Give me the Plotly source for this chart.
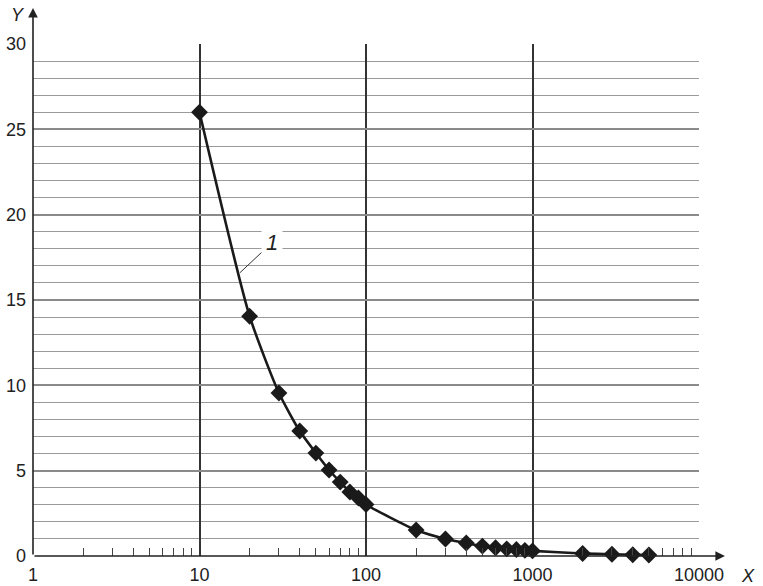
import plotly.graph_objects as go

# Data
x_vals = [10, 20, 30, 40, 50, 60, 70, 80, 90, 100, 200, 300, 400, 500, 600, 700, 800, 900, 1000, 2000, 3000, 4000, 5000]
y_vals = [26.0, 14.05, 9.55, 7.32, 6.03, 5.04, 4.33, 3.75, 3.40, 3.02, 1.52, 1.0, 0.76, 0.58, 0.48, 0.42, 0.38, 0.33, 0.30, 0.15, 0.10, 0.075, 0.06]

x_tick_vals = [1, 10, 100, 1000, 10000]
x_tick_text = ["1", "10", "100", "1000", "10000"]
x_minor_vals = [m * d for d in [1, 10, 100, 1000] for m in range(2, 10)]
y_tick_vals = [0, 5, 10, 15, 20, 25, 30]
y_tick_text = ["0", "5", "10", "15", "20", "25", "30"]

FONT = "Liberation Sans, Arial, sans-serif"

fig = go.Figure()
fig.add_trace(go.Scatter(
    x=x_vals, y=y_vals, mode="lines+markers",
    line=dict(color="#1a1a1a", width=2.6, shape="spline", smoothing=0.6),
    marker=dict(symbol="diamond", size=13, color="#1a1a1a"),
    showlegend=False, cliponaxis=False,
))

fig.update_layout(
    width=763, height=586,
    margin=dict(l=33, r=64, t=44, b=30, autoexpand=False),
    paper_bgcolor="white", plot_bgcolor="white",
    font=dict(family=FONT, size=18, color="#222"),
    xaxis=dict(
        type="log", range=[0, 4], automargin=False,
        tickmode="array", tickvals=x_tick_vals, ticktext=x_tick_text,
        showgrid=True, gridcolor="#333", gridwidth=1.5,
        ticks="", showline=False, zeroline=False,
        minor=dict(tickmode="array", tickvals=x_minor_vals, ticks="inside",
                   ticklen=8, tickwidth=1.2, tickcolor="#444", showgrid=False),
        ticklabelstandoff=6,
    ),
    yaxis=dict(
        range=[0, 30], automargin=False,
        tickmode="array", tickvals=y_tick_vals, ticktext=y_tick_text,
        showgrid=True, gridcolor="#8a8a8a", gridwidth=1.5,
        ticks="", showline=False, zeroline=False,
        minor=dict(dtick=1, showgrid=True, gridcolor="#9a9a9a", gridwidth=1.3),
        ticklabelstandoff=6,
    ),
)

# Axis arrows
fig.add_annotation(xref="paper", yref="paper", x=0, y=1.0703, ax=0, ay=548,
                   axref="pixel", ayref="pixel", text="", showarrow=True,
                   arrowhead=2, arrowsize=1.2, arrowwidth=1.6, arrowcolor="#222")
fig.add_annotation(xref="paper", yref="paper", x=1.039, y=0, ax=-692, ay=0,
                   axref="pixel", ayref="pixel", text="", showarrow=True,
                   arrowhead=2, arrowsize=1.2, arrowwidth=1.6, arrowcolor="#222")

# Axis names
fig.add_annotation(xref="paper", yref="paper", x=-0.0225, y=1.0566, text="<i>Y</i>",
                   xanchor="center", yanchor="middle",
                   showarrow=False, font=dict(size=18, family=FONT, color="#222"))
fig.add_annotation(xref="paper", yref="paper", x=1.0736, y=-0.039, text="<i>X</i>",
                   xanchor="center", yanchor="middle",
                   showarrow=False, font=dict(size=18, family=FONT, color="#222"))

# Curve label "1"
fig.add_annotation(x=1.243, y=16.6, xref="x", yref="y", text="<i>1</i>",
                   showarrow=True, ax=32, ay=-30, arrowhead=0, arrowwidth=1,
                   arrowcolor="#333", bgcolor="white", borderpad=4,
                   font=dict(size=22, family=FONT, color="#222"))

fig.write_html("out.html", config={"displayModeBar": False},
               post_script="document.body.style.margin='0px';document.body.style.overflow='hidden';")
